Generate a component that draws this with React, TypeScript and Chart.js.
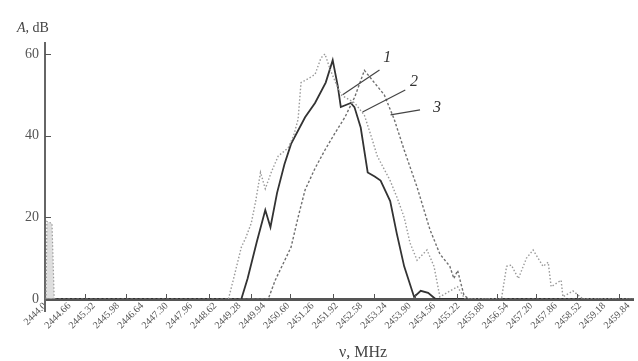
import React, { useEffect, useRef } from "react";
import { Chart, registerables } from "chart.js";

Chart.register(...registerables);

// X-axis tick values (MHz) and their labels
const tickValues = [
  2444.0, 2444.66, 2445.32, 2445.98, 2446.64, 2447.3, 2447.96, 2448.62, 2449.28,
  2449.94, 2450.6, 2451.26, 2451.92, 2452.58, 2453.24, 2453.9, 2454.56, 2455.22,
  2455.88, 2456.54, 2457.2, 2457.86, 2458.52, 2459.18, 2459.84,
];
const tickLabels = [
  "2444.0", "2444.66", "2445.32", "2445.98", "2446.64", "2447.30", "2447.96", "2448.62",
  "2449.28", "2449.94", "2450.60", "2451.26", "2451.92", "2452.58", "2453.24", "2453.90",
  "2454.56", "2455.22", "2455.88", "2456.54", "2457.20", "2457.86", "2458.52", "2459.18",
  "2459.84",
];
const minorTicks = [
  2445.08, 2446.21, 2447.29, 2448.45, 2449.58, 2450.65, 2451.81, 2452.92, 2454.05,
  2455.18, 2456.26, 2457.34, 2458.44, 2459.57,
];
const yTicks = [0, 20, 40, 60];

// Spike near the start of the band
const spikeFreq = [2444.03, 2444.05, 2444.19, 2444.25];
const spikeAmp = [0, 19, 18.5, 0];

// Curve 1 (dotted)
const c1Freq = [
  2448.98, 2449.12, 2449.33, 2449.45, 2449.6, 2449.72, 2449.85, 2449.98, 2450.14, 2450.33,
  2450.6, 2450.75, 2450.87, 2450.95, 2451.15, 2451.33, 2451.49, 2451.6, 2451.75, 2452.03,
  2452.41, 2452.67, 2452.85, 2453.02, 2453.37, 2453.55, 2453.75, 2453.91, 2454.1, 2454.37,
  2454.56, 2454.72, 2455.0, 2455.2, 2455.4, 2456.39, 2456.53, 2456.66, 2456.85, 2457.07,
  2457.25, 2457.52, 2457.66, 2457.74, 2458.01, 2458.06, 2458.33, 2458.6, 2459.98,
];
const c1Amp = [
  0, 5, 12.7, 15, 18.6, 24, 31, 27, 31, 35,
  37, 40, 44, 53, 54, 55, 59, 60, 56, 50,
  48, 45, 40, 35, 29, 25, 20, 13.7, 9.5, 12,
  8, 0.5, 2, 3, 0, 0, 8, 8.3, 5, 10,
  12, 8, 9, 3, 4.6, 0.5, 2, 0, 0,
];

// Curve 2 (solid)
const c2Freq = [
  2444.0, 2449.33, 2449.5, 2449.75, 2449.98, 2450.12, 2450.3, 2450.5, 2450.68, 2451.06,
  2451.33, 2451.62, 2451.81, 2451.95, 2452.03, 2452.3, 2452.4, 2452.57, 2452.76, 2452.95,
  2453.11, 2453.37, 2453.55, 2453.75, 2454.02, 2454.2, 2454.4, 2454.6, 2459.98,
];
const c2Amp = [
  0, 0, 5, 14, 21.8, 17.6, 26, 33, 38, 44.5,
  48, 53, 58.5, 52, 47, 48, 47, 42, 31, 30,
  29, 24, 16, 8, 0.5, 2, 1.5, 0, 0,
];

// Curve 3 (dashed)
const c3Freq = [
  2444.0, 2450.06, 2450.25, 2450.68, 2450.87, 2451.06, 2451.33, 2451.6, 2451.87, 2452.14,
  2452.41, 2452.67, 2452.94, 2453.21, 2453.48, 2453.75, 2454.1, 2454.45, 2454.72, 2454.99,
  2455.1, 2455.2, 2455.37, 2455.5, 2459.98,
];
const c3Amp = [
  0, 0, 4.6, 12.7, 20, 26.7, 32, 36.5, 40.6, 44.5,
  49.5, 56, 53, 50, 44, 36.5, 27.4, 17, 11, 8,
  5, 7, 1, 0, 0,
];

// Curve number annotations in data coordinates: [label, fromX, fromY, toX, toY, textX, textY]
const curveNotes: [string, number, number, number, number, number, number][] = [
  ["1", 2452.08, 50.0, 2453.08, 56.1, 2453.29, 59.0],
  ["2", 2452.62, 45.8, 2453.78, 51.2, 2454.02, 53.1],
  ["3", 2453.38, 45.1, 2454.18, 46.3, 2454.64, 46.8],
];

const toPts = (xs: number[], ys: number[]) => xs.map((x, i) => ({ x, y: ys[i] }));

const SERIF = "'Liberation Serif', 'DejaVu Serif', serif";

const decorPlugin = {
  id: "decor",
  afterDraw(chart: any) {
    const { ctx, chartArea, scales } = chart;
    const xs = scales.x;
    const ys = scales.y;
    ctx.save();
    // y axis extension below 0
    ctx.strokeStyle = "#666";
    ctx.lineWidth = 2;
    ctx.beginPath();
    ctx.moveTo(chartArea.left, chartArea.bottom);
    ctx.lineTo(chartArea.left, chartArea.bottom + 13);
    ctx.stroke();
    // inward y ticks
    ctx.lineWidth = 1;
    ctx.strokeStyle = "#555";
    yTicks.slice(1).forEach((v) => {
      const py = Math.round(ys.getPixelForValue(v)) + 0.5;
      ctx.beginPath();
      ctx.moveTo(chartArea.left, py);
      ctx.lineTo(chartArea.left + 6, py);
      ctx.stroke();
    });
    // minor x ticks (upward)
    minorTicks.forEach((v) => {
      const px = Math.round(xs.getPixelForValue(v)) + 0.5;
      ctx.beginPath();
      ctx.moveTo(px, chartArea.bottom);
      ctx.lineTo(px, chartArea.bottom - 5);
      ctx.stroke();
    });
    // curve notes
    ctx.strokeStyle = "#444";
    ctx.fillStyle = "#333";
    ctx.lineWidth = 1.2;
    ctx.font = `italic 16px ${SERIF}`;
    ctx.textAlign = "center";
    ctx.textBaseline = "middle";
    curveNotes.forEach(([t, x0, y0, x1, y1, tx, ty]) => {
      ctx.beginPath();
      ctx.moveTo(xs.getPixelForValue(x0), ys.getPixelForValue(y0));
      ctx.lineTo(xs.getPixelForValue(x1), ys.getPixelForValue(y1));
      ctx.stroke();
      ctx.fillText(t, xs.getPixelForValue(tx), ys.getPixelForValue(ty));
    });
    // axis titles
    ctx.fillStyle = "#444";
    ctx.textAlign = "left";
    ctx.textBaseline = "alphabetic";
    ctx.font = `italic 14px ${SERIF}`;
    ctx.fillText("A", 17, 32);
    const aw = ctx.measureText("A").width;
    ctx.font = `14px ${SERIF}`;
    ctx.fillText(", dB", 17 + aw, 32);
    ctx.font = `16px ${SERIF}`;
    ctx.textAlign = "center";
    ctx.fillText("ν, MHz", 363, 357);
    ctx.restore();
  },
};

export default function App() {
  const ref = useRef<HTMLCanvasElement | null>(null);
  useEffect(() => {
    document.body.style.margin = "0";
    const canvas = ref.current;
    if (!canvas) return;
    const chart = new Chart(canvas, {
      type: "line",
      data: {
        datasets: [
          {
            data: toPts(spikeFreq, spikeAmp),
            borderColor: "#999",
            borderDash: [1.5, 2],
            borderWidth: 1.2,
            backgroundColor: "rgba(200,200,200,0.6)",
            fill: "origin",
            pointRadius: 0,
          },
          {
            data: toPts(c1Freq, c1Amp),
            borderColor: "#999",
            borderDash: [1.5, 2],
            borderWidth: 1.4,
            fill: false,
            pointRadius: 0,
          },
          {
            data: toPts(c3Freq, c3Amp),
            borderColor: "#707070",
            borderDash: [2.5, 2],
            borderWidth: 1.4,
            fill: false,
            pointRadius: 0,
          },
          {
            data: toPts(c2Freq, c2Amp),
            borderColor: "#333",
            borderWidth: 1.8,
            fill: false,
            pointRadius: 0,
          },
        ],
      },
      options: {
        animation: false,
        responsive: false,
        devicePixelRatio: 1,
        layout: { padding: { top: 43, right: 0, left: 0, bottom: 0 } },
        plugins: { legend: { display: false }, tooltip: { enabled: false } },
        scales: {
          x: {
            type: "linear",
            min: 2444,
            max: 2459.98,
            afterBuildTicks: (s: any) => {
              s.ticks = tickValues.map((v) => ({ value: v }));
            },
            afterFit: (s: any) => {
              s.height = 62;
            },
            ticks: {
              autoSkip: false,
              maxRotation: 45,
              minRotation: 45,
              padding: 1,
              color: "#555",
              font: { family: SERIF, size: 10 },
              callback: (_v: any, i: number) => tickLabels[i],
            },
            grid: { display: false, drawTicks: false },
            border: { display: true, color: "#555", width: 3 },
          },
          y: {
            type: "linear",
            min: 0,
            max: 62.7,
            afterBuildTicks: (s: any) => {
              s.ticks = yTicks.map((v) => ({ value: v }));
            },
            afterFit: (s: any) => {
              s.width = 45;
            },
            ticks: {
              padding: 6,
              color: "#555",
              font: { family: SERIF, size: 14 },
            },
            grid: { display: false, drawTicks: false },
            border: { display: true, color: "#666", width: 2 },
          },
        },
      },
      plugins: [decorPlugin],
    });
    return () => chart.destroy();
  }, []);
  return (
    <div style={{ width: 638, height: 361, background: "#fff" }}>
      <canvas ref={ref} width={638} height={361} />
    </div>
  );
}
